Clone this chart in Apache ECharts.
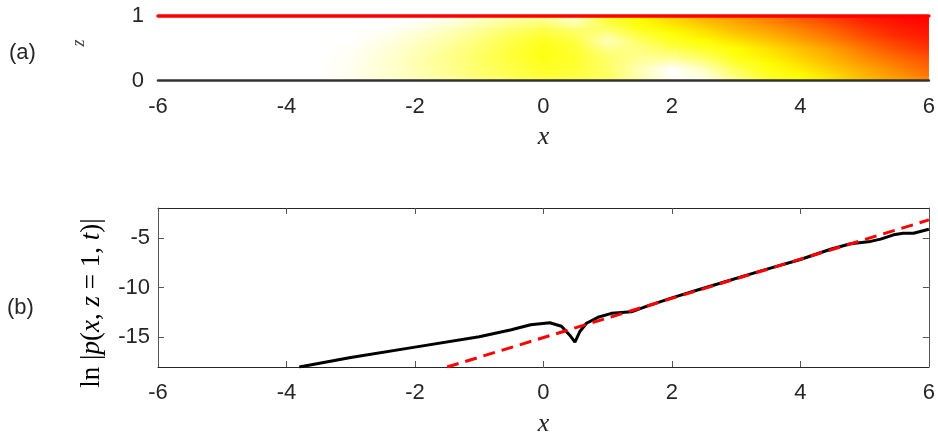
<!DOCTYPE html>
<html>
<head>
<meta charset="utf-8">
<style>
html, body { margin: 0; padding: 0; background: #fff; }
#main { width: 938px; height: 438px; }
</style>
<script src="https://cdn.jsdelivr.net/npm/echarts@6/dist/echarts.min.js"></script>
</head>
<body>
<div id="main"></div>
<script>
// panel (a): field level (0 = white, 1 = yellow, 2 = red)
var xNodes = [-6, -5.5, -5, -4.5, -4, -3.5, -3, -2.5, -2, -1.5, -1, -0.5, 0, 0.5, 1, 1.5, 2, 2.5, 3, 3.5, 4, 4.5, 5, 5.5, 6];
var zRows = [0, 0.1, 0.2, 0.3, 0.4, 0.5, 0.6, 0.7, 0.8, 0.9, 1];
var fieldZ00 = [0,0,0,0,0,0, 0.05,0.15,0.25,0.38,0.5,0.62,0.72,0.7,0.6,0.35,0.05,0.1,0.45,0.8,1.0,1.1,1.25,1.35,1.45];
var fieldZ01 = [0,0,0,0,0,0, 0.07,0.17,0.28,0.4,0.55,0.68,0.8,0.75,0.6,0.3,0.0,0.15,0.55,0.88,1.02,1.15,1.3,1.42,1.55];
var fieldZ02 = [0,0,0,0,0,0, 0.06,0.17,0.3,0.43,0.58,0.72,0.85,0.8,0.6,0.3,0.02,0.3,0.7,0.95,1.08,1.22,1.35,1.48,1.6];
var fieldZ03 = [0,0,0,0,0,0, 0.05,0.16,0.3,0.44,0.6,0.75,0.9,0.82,0.6,0.4,0.3,0.5,0.85,1.02,1.15,1.28,1.42,1.55,1.66];
var fieldZ04 = [0,0,0,0,0,0, 0.04,0.15,0.28,0.43,0.6,0.78,0.92,0.82,0.55,0.45,0.5,0.7,0.95,1.08,1.2,1.33,1.48,1.62,1.72];
var fieldZ05 = [0,0,0,0,0,0, 0.03,0.13,0.25,0.4,0.58,0.76,0.92,0.8,0.45,0.5,0.7,0.85,1.0,1.12,1.25,1.38,1.55,1.7,1.8];
var fieldZ06 = [0,0,0,0,0,0, 0,0.1,0.22,0.36,0.53,0.72,0.88,0.75,0.25,0.6,0.85,0.98,1.1,1.22,1.35,1.48,1.63,1.76,1.85];
var fieldZ07 = [0,0,0,0,0,0, 0,0.06,0.17,0.3,0.47,0.65,0.8,0.65,0.4,0.75,0.95,1.08,1.2,1.3,1.43,1.56,1.72,1.84,1.9];
var fieldZ08 = [0,0,0,0,0,0, 0,0.02,0.1,0.22,0.38,0.55,0.68,0.55,0.6,0.9,1.05,1.15,1.28,1.38,1.5,1.63,1.78,1.88,1.94];
var fieldZ09 = [0,0,0,0,0,0, 0,0,0.03,0.13,0.27,0.42,0.5,0.25,0.75,0.98,1.12,1.25,1.35,1.47,1.6,1.72,1.85,1.93,1.97];
var fieldZ10 = [0,0,0,0,0,0, 0,0,0,0.06,0.18,0.32,0.4,0.3,0.85,1.05,1.2,1.32,1.42,1.52,1.65,1.78,1.9,1.96,2.0];
var fieldRows = [fieldZ00, fieldZ01, fieldZ02, fieldZ03, fieldZ04, fieldZ05, fieldZ06, fieldZ07, fieldZ08, fieldZ09, fieldZ10];

// panel (b)
var blackX = [-3.8, -3, -2, -1, -0.5, -0.2, 0.1, 0.28, 0.41, 0.49, 0.57, 0.67, 0.85, 1.06, 1.37, 1.58, 2.0, 2.4, 2.71, 3.4, 4.0, 4.47, 4.78, 5.09, 5.25, 5.45, 5.6, 5.76, 6.0];
var blackY = [-18, -17.05, -16.0, -14.95, -14.25, -13.75, -13.55, -13.9, -14.8, -15.5, -14.4, -13.6, -13.0, -12.6, -12.45, -11.95, -11.05, -10.25, -9.65, -8.3, -7.18, -6.15, -5.6, -5.36, -5.13, -4.7, -4.54, -4.54, -4.14];
var redX = [-1.5, 6];
var redY = [-18, -3.2];
var yTicksB = [-15, -10, -5];

function levelColor(v) {
	if (v <= 1) return 'rgb(255,255,' + Math.round(255 * (1 - v)) + ')';
	return 'rgb(255,' + Math.round(255 * (2 - v)) + ',0)';
}
function zip(a, b) {
	return a.map(function(v, i) { return [v, b[i]]; });
}

var labelFont = {
	fontFamily: 'Liberation Sans, Arial, sans-serif',
	fontSize: 22,
	color: '#262626'
};
var nameFont = { fontFamily: 'Liberation Serif, serif', fontStyle: 'italic', fontSize: 26, color: '#262626' };
var inTick = { show: true, inside: true, length: 6, lineStyle: { color: '#555' } };
var SUB = 8; // shading steps between two rows

var option = {
	animation: false,
	grid: [
		{ left: 158, right: 6, top: 15.5, height: 65 },
		{ left: 158, right: 6, top: 208, height: 160 }
	],
	xAxis: [{
		gridIndex: 0, type: 'value', min: -6, max: 6, interval: 2, z: 5,
		axisLine: { onZero: false, lineStyle: { color: '#333', width: 2.5 } },
		axisTick: { show: false },
		axisLabel: Object.assign({ margin: 15 }, labelFont),
		splitLine: { show: false },
		name: 'x', nameLocation: 'middle', nameGap: 44, nameTextStyle: nameFont
	}, {
		gridIndex: 0, type: 'value', position: 'top', min: -6, max: 6, z: 5,
		axisLine: { onZero: false, lineStyle: { color: '#ff0000', width: 3.5 } },
		axisTick: { show: false }, axisLabel: { show: false }, splitLine: { show: false }
	}, {
		gridIndex: 1, type: 'value', min: -6, max: 6, interval: 2,
		axisLine: { onZero: false, lineStyle: { color: '#262626', width: 1 } },
		axisTick: inTick,
		axisLabel: Object.assign({ margin: 15 }, labelFont),
		splitLine: { show: false },
		name: 'x', nameLocation: 'middle', nameGap: 44, nameTextStyle: nameFont
	}, {
		gridIndex: 1, type: 'value', position: 'top', min: -6, max: 6, interval: 2,
		axisLine: { onZero: false, lineStyle: { color: '#262626', width: 1 } },
		axisTick: inTick, axisLabel: { show: false }, splitLine: { show: false }
	}],
	yAxis: [{
		gridIndex: 0, type: 'value', min: 0, max: 1, interval: 1,
		axisLine: { show: false, onZero: false }, axisTick: { show: false },
		axisLabel: Object.assign({ margin: 14 }, labelFont),
		splitLine: { show: false }
	}, {
		gridIndex: 1, type: 'value', min: -18, max: -2,
		axisLine: { show: true, onZero: false, lineStyle: { color: '#555', width: 1 } },
		axisTick: Object.assign({ customValues: yTicksB }, inTick),
		axisLabel: Object.assign({ margin: 8, customValues: yTicksB }, labelFont),
		splitLine: { show: false }
	}, {
		gridIndex: 1, type: 'value', position: 'right', min: -18, max: -2,
		axisLine: { show: true, onZero: false, lineStyle: { color: '#555', width: 1 } },
		axisTick: Object.assign({ customValues: yTicksB }, inTick),
		axisLabel: { show: false }, splitLine: { show: false }
	}],
	graphic: [
		{ type: 'text', x: 9, y: 53, style: { text: '(a)', font: '22px Liberation Sans, Arial', fill: '#262626', verticalAlign: 'middle' } },
		{ type: 'text', x: 7, y: 308, style: { text: '(b)', font: '22px Liberation Sans, Arial', fill: '#262626', verticalAlign: 'middle' } },
		{ type: 'text', x: 79, y: 43, rotation: Math.PI / 2, style: { text: 'z', font: 'italic 18px Liberation Serif, serif', fill: '#444', align: 'center', verticalAlign: 'middle' } },
		{ type: 'text', x: 92, y: 303, rotation: Math.PI / 2, style: {
			text: '{r|ln }{r||}{i|p}{r|(}{i|x}{r|, }{i|z}{r| = 1, }{i|t}{r|)|}',
			align: 'center', verticalAlign: 'middle',
			rich: {
				r: { fontFamily: 'Liberation Serif, serif', fontSize: 27, color: '#262626' },
				i: { fontFamily: 'Liberation Serif, serif', fontStyle: 'italic', fontSize: 27, color: '#262626' }
			}
		} }
	],
	series: [{
		type: 'custom',
		xAxisIndex: 0, yAxisIndex: 0, z: 1,
		data: zRows.slice(0, -1).map(function(z, j) { return [j, z]; }),
		renderItem: function(params, api) {
			var j = api.value(0);
			var rowA = fieldRows[j], rowB = fieldRows[j + 1];
			var zA = zRows[j], zB = zRows[j + 1];
			var first = xNodes[0], last = xNodes[xNodes.length - 1];
			var children = [];
			for (var k = 0; k < SUB; k++) {
				var t = (k + 0.5) / SUB;
				var p0 = api.coord([first, zA + (zB - zA) * (k + 1) / SUB]);
				var p1 = api.coord([last, zA + (zB - zA) * k / SUB]);
				var stops = rowA.map(function(v, i) {
					return { offset: (xNodes[i] - first) / (last - first), color: levelColor(v * (1 - t) + rowB[i] * t) };
				});
				children.push({
					type: 'rect',
					shape: { x: p0[0], y: p0[1] - 0.4, width: p1[0] - p0[0], height: p1[1] - p0[1] + 0.8 },
					style: { fill: new echarts.graphic.LinearGradient(0, 0, 1, 0, stops) }
				});
			}
			return { type: 'group', children: children };
		}
	}, {
		type: 'line',
		xAxisIndex: 2, yAxisIndex: 1,
		data: zip(blackX, blackY),
		showSymbol: false,
		lineStyle: { color: '#000', width: 3 }
	}, {
		type: 'line',
		xAxisIndex: 2, yAxisIndex: 1,
		data: zip(redX, redY),
		showSymbol: false,
		lineStyle: { color: '#ff0000', width: 3, type: [12, 7] }
	}]
};

var chart = echarts.init(document.getElementById('main'));
chart.setOption(option);
</script>
</body>
</html>
